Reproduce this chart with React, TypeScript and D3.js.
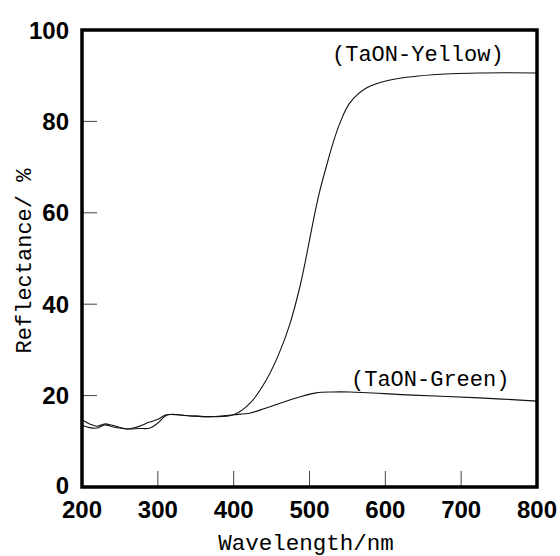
import React, { useRef, useEffect } from "react";
import { select, scaleLinear, line, curveCatmullRom } from "d3";

// TaON-Yellow spectrum (wavelength nm, reflectance %)
const yellowWl = [200, 210, 220, 230, 240, 260, 275, 290, 300, 313, 340, 370, 400, 422, 443, 460, 474, 487, 496, 504, 513, 524, 532, 541, 553, 575, 605, 662, 728, 800];
const yellowR = [13.5, 13.0, 12.9, 13.6, 13.2, 12.7, 12.8, 12.9, 14.0, 15.8, 15.6, 15.4, 15.8, 18.4, 23.4, 29.3, 35.6, 43.6, 50.6, 57.4, 64.4, 71.2, 75.8, 80.0, 84.0, 87.3, 89.0, 90.2, 90.6, 90.6];

// TaON-Green spectrum
const greenWl = [200, 210, 220, 230, 240, 260, 272, 289, 300, 311, 340, 370, 400, 422, 443, 487, 509, 530, 553, 636, 724, 800];
const greenR = [14.7, 13.8, 13.3, 13.8, 13.5, 12.7, 13.1, 14.2, 14.8, 15.8, 15.6, 15.4, 15.8, 16.2, 17.3, 19.7, 20.6, 20.8, 20.8, 20.1, 19.5, 18.8];

const xTicks = [200, 300, 400, 500, 600, 700, 800];
const yTicks = [0, 20, 40, 60, 80, 100];

const sansBold = "'Liberation Sans', Arial, sans-serif";
const mono = "'Liberation Mono', 'DejaVu Sans Mono', monospace";

function App() {
  const svgRef = useRef<SVGSVGElement>(null);

  useEffect(() => {
    const svg = select(svgRef.current);
    svg.selectAll("*").remove();

    const xScale = scaleLinear().domain([200, 800]).range([82, 537]);
    const yScale = scaleLinear().domain([0, 100]).range([487, 30]);

    // inner ticks
    svg.selectAll(".xtick")
      .data(xTicks.slice(1, -1))
      .join("line")
      .attr("x1", d => xScale(d)).attr("x2", d => xScale(d))
      .attr("y1", yScale(0)).attr("y2", yScale(0) - 16)
      .attr("stroke", "#444").attr("stroke-width", 1);

    svg.selectAll(".ytick")
      .data(yTicks.slice(1, -1))
      .join("line")
      .attr("x1", xScale(200)).attr("x2", xScale(200) + 15)
      .attr("y1", d => yScale(d)).attr("y2", d => yScale(d))
      .attr("stroke", "#444").attr("stroke-width", 1);

    // curves
    const path = line<[number, number]>()
      .x(d => xScale(d[0]))
      .y(d => yScale(d[1]))
      .curve(curveCatmullRom.alpha(0.5));

    const series = [
      yellowWl.map((w, i) => [w, yellowR[i]] as [number, number]),
      greenWl.map((w, i) => [w, greenR[i]] as [number, number]),
    ];
    svg.selectAll(".curve")
      .data(series)
      .join("path")
      .attr("d", d => path(d))
      .attr("fill", "none")
      .attr("stroke", "#111")
      .attr("stroke-width", 1.1);

    // frame
    svg.append("rect")
      .attr("x", xScale(200)).attr("y", yScale(100))
      .attr("width", xScale(800) - xScale(200))
      .attr("height", yScale(0) - yScale(100))
      .attr("fill", "none").attr("stroke", "#000").attr("stroke-width", 3.5);

    // tick labels
    svg.selectAll(".xlabel")
      .data(xTicks)
      .join("text")
      .attr("x", d => xScale(d)).attr("y", 518)
      .attr("text-anchor", "middle")
      .style("font-family", sansBold).style("font-weight", "bold").style("font-size", "24px")
      .text(d => d);

    svg.selectAll(".ylabel")
      .data(yTicks)
      .join("text")
      .attr("x", 69).attr("y", d => yScale(d)).attr("dy", d => (d === 0 ? "0.3em" : "0.36em"))
      .attr("text-anchor", "end")
      .style("font-family", sansBold).style("font-weight", "bold").style("font-size", "24px")
      .text(d => d);

    // axis titles
    svg.append("text")
      .attr("x", 306).attr("y", 550).attr("text-anchor", "middle")
      .style("font-family", mono).style("font-size", "22.5px")
      .text("Wavelength/nm");

    svg.append("text")
      .attr("transform", "translate(31,261) rotate(-90)")
      .attr("text-anchor", "middle")
      .style("font-family", mono).style("font-size", "22px")
      .text("Reflectance/ %");

    // series labels
    svg.append("text")
      .attr("x", 332).attr("y", 61)
      .style("font-family", mono).style("font-size", "22px")
      .text("(TaON-Yellow)");

    svg.append("text")
      .attr("x", 351).attr("y", 386)
      .style("font-family", mono).style("font-size", "22px")
      .text("(TaON-Green)");
  }, []);

  return (
    <svg
      ref={svgRef}
      width={560}
      height={556}
      style={{ position: "fixed", top: 0, left: 0, display: "block", background: "#fff" }}
    />
  );
}

export default App;
